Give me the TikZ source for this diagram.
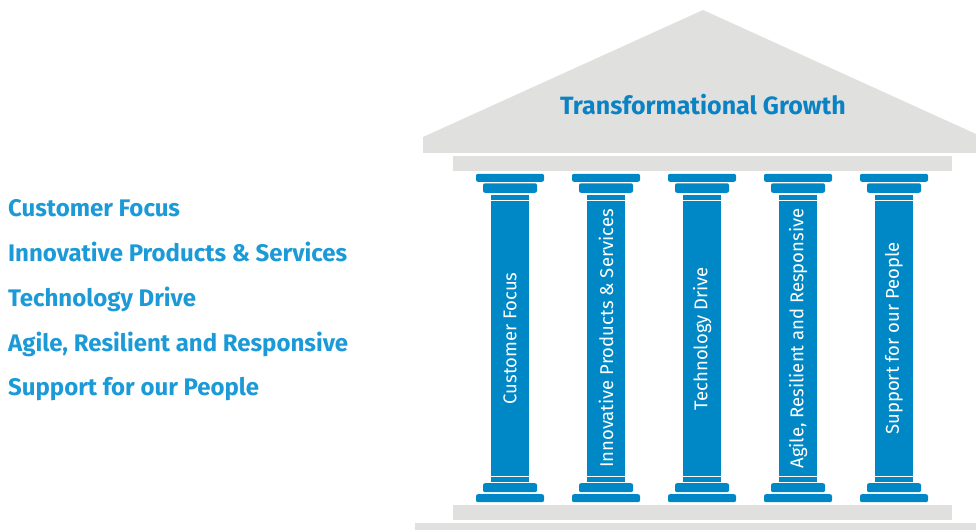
\documentclass[tikz,border=0pt]{standalone}
\usepackage{fontspec}
\setmainfont{Fira Sans}
\usetikzlibrary{positioning}
\definecolor{pillarblue}{RGB}{0,136,198}
\definecolor{titleblue}{RGB}{10,130,196}
\definecolor{listblue}{RGB}{28,154,216}
\definecolor{stonegray}{RGB}{224,224,222}
\tikzstyle{stone} = [fill=stonegray, draw=none]
\tikzstyle{shaft} = [rectangle, fill=pillarblue, minimum width=287pt, minimum height=38pt, inner sep=0pt, text=white, font=\fontsize{18.5}{18.5}\selectfont, rotate=90]
\tikzstyle{slab} = [fill=pillarblue, rounded corners=2pt]
\tikzstyle{item} = [anchor=west, inner sep=0pt, text height=17pt, text depth=5pt, text=listblue, font=\fontsize{24}{24}\selectfont\bfseries]
\tikzstyle{groove} = [white, line width=1.2pt]

\begin{document}
\begin{tikzpicture}[x=1pt, y=1pt, node distance=22.3pt]
   	\useasboundingbox (0,0) rectangle (976,530);

   	% roof and floor
   	\fill [stone] (423,377) -- (423,393) -- (703,520) -- (976,396) -- (976,377) -- cycle;
   	\fill [stone] (453,359) rectangle (952,374);
   	\fill [stone] (453,10) rectangle (952,25);
   	\fill [stone] (415,0) rectangle (976,7);
   	\node (title) [text=titleblue, font=\fontsize{25}{25}\selectfont\bfseries] at (703,425) {Transformational Growth};

   	% pillars
   	\node (p1) [shaft] at (510,191.5) {Customer Focus};
   	\node (p2) [shaft] at (606,191.5) {Innovative Products \& Services};
   	\node (p3) [shaft] at (702,191.5) {Technology Drive};
   	\node (p4) [shaft] at (798,191.5) {Agile, Resilient and Responsive};
   	\node (p5) [shaft] at (894,191.5) {Support for our People};

   	\foreach \p in {p1,p2,p3,p4,p5} {
   		\fill [slab] ([xshift=-34pt,yshift=13pt]\p.east) rectangle ([xshift=34pt,yshift=21pt]\p.east);
   		\fill [slab] ([xshift=-27pt,yshift=2pt]\p.east) rectangle ([xshift=27pt,yshift=11.5pt]\p.east);
   		\draw [groove] ([xshift=-19pt,yshift=-5.5pt]\p.east) -- ([xshift=19pt,yshift=-5.5pt]\p.east);
   		\draw [groove] ([xshift=-19pt,yshift=6pt]\p.west) -- ([xshift=19pt,yshift=6pt]\p.west);
   		\fill [slab] ([xshift=-27pt,yshift=-1pt]\p.west) rectangle ([xshift=27pt,yshift=-10pt]\p.west);
   		\fill [slab] ([xshift=-34pt,yshift=-12pt]\p.west) rectangle ([xshift=34pt,yshift=-20pt]\p.west);
   	}

   	% list on the left
   	\node (l1) [item] at (8,319) {Customer Focus};
   	\node (l2) [item, below=of l1.south west, anchor=north west] {Innovative Products \& Services};
   	\node (l3) [item, below=of l2.south west, anchor=north west] {Technology Drive};
   	\node (l4) [item, below=of l3.south west, anchor=north west] {Agile, Resilient and Responsive};
   	\node (l5) [item, below=of l4.south west, anchor=north west] {Support for our People};

\end{tikzpicture}
\end{document}
